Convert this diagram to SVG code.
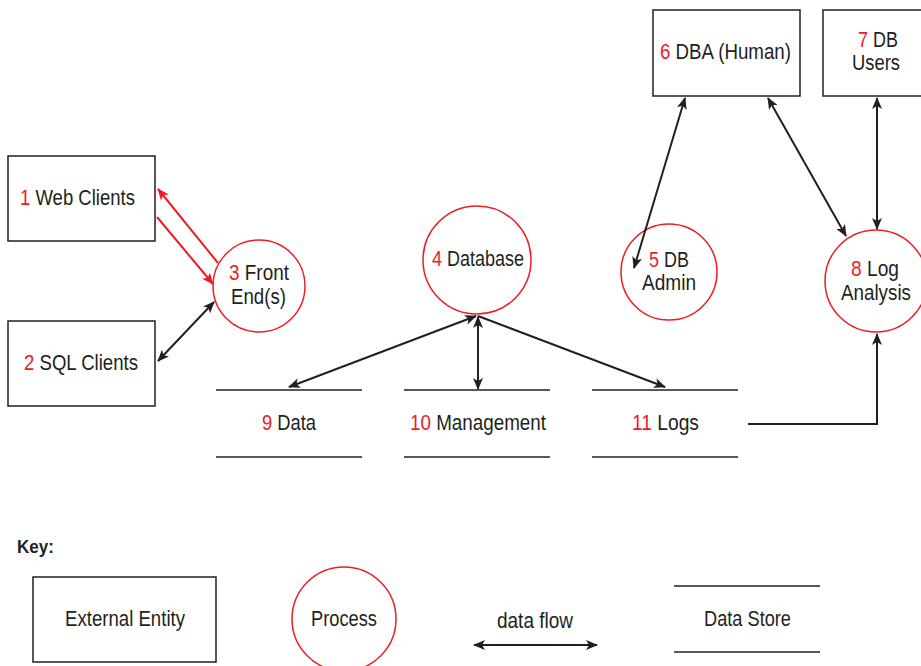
<svg xmlns="http://www.w3.org/2000/svg" width="921" height="666" viewBox="0 0 921 666">
<defs>
<style>
.box{fill:none;stroke:#231f20;stroke-width:1.5}
.proc{fill:none;stroke:#ed1c24;stroke-width:1.5}
.store{stroke:#231f20;stroke-width:1.5}
.t{font-family:"Liberation Sans",Arial,sans-serif;font-size:22px;fill:#231f20}
.n{fill:#ed1c24}
.fl{fill:none;stroke:#231f20;stroke-width:2}
.fr{fill:none;stroke:#ed1c24;stroke-width:2}
</style>
<marker id="ab" viewBox="0 0 12 10" refX="11" refY="5" markerWidth="12" markerHeight="10" markerUnits="userSpaceOnUse" orient="auto-start-reverse">
<path d="M0,0 L12,5 L0,10 L3,5 z" fill="#231f20"/>
</marker>
<marker id="ar" viewBox="0 0 12 10" refX="11" refY="5" markerWidth="12" markerHeight="10" markerUnits="userSpaceOnUse" orient="auto-start-reverse">
<path d="M0,0 L12,5 L0,10 L3,5 z" fill="#ed1c24"/>
</marker>
</defs>
<rect width="921" height="666" fill="#fff"/>

<g id="n1"><rect class="box" x="8" y="156" width="147" height="85"/>
<text class="t" x="20" y="205" textLength="115" lengthAdjust="spacingAndGlyphs"><tspan class="n">1</tspan> Web Clients</text></g>
<g id="n2"><rect class="box" x="8" y="321" width="147" height="85"/>
<text class="t" x="24" y="370" textLength="114" lengthAdjust="spacingAndGlyphs"><tspan class="n">2</tspan> SQL Clients</text></g>
<g id="n3"><circle class="proc" cx="259" cy="286" r="46"/>
<text class="t" x="229" y="280" textLength="60" lengthAdjust="spacingAndGlyphs"><tspan class="n">3</tspan> Front</text>
<text class="t" x="231" y="304" textLength="55" lengthAdjust="spacingAndGlyphs">End(s)</text></g>
<g id="n4"><circle class="proc" cx="477" cy="260" r="54"/>
<text class="t" x="432" y="266" textLength="92" lengthAdjust="spacingAndGlyphs"><tspan class="n">4</tspan> Database</text></g>
<g id="n5"><circle class="proc" cx="669" cy="272" r="48"/>
<text class="t" x="649" y="267" textLength="40" lengthAdjust="spacingAndGlyphs"><tspan class="n">5</tspan> DB</text>
<text class="t" x="642" y="290" textLength="54" lengthAdjust="spacingAndGlyphs">Admin</text></g>
<g id="n6"><rect class="box" x="653" y="10" width="147" height="86"/>
<text class="t" x="660" y="59" textLength="131" lengthAdjust="spacingAndGlyphs"><tspan class="n">6</tspan> DBA (Human)</text></g>
<g id="n7"><rect class="box" x="823" y="10" width="110" height="86"/>
<text class="t" x="858" y="47" textLength="40" lengthAdjust="spacingAndGlyphs"><tspan class="n">7</tspan> DB</text>
<text class="t" x="852" y="70" textLength="48" lengthAdjust="spacingAndGlyphs">Users</text></g>
<g id="n8"><circle class="proc" cx="876" cy="281" r="51"/>
<text class="t" x="851" y="276" textLength="48" lengthAdjust="spacingAndGlyphs"><tspan class="n">8</tspan> Log</text>
<text class="t" x="841" y="300" textLength="70" lengthAdjust="spacingAndGlyphs">Analysis</text></g>
<g id="n9"><line class="store" x1="216" y1="390" x2="362" y2="390"/><line class="store" x1="216" y1="457" x2="362" y2="457"/>
<text class="t" x="262" y="430" textLength="54" lengthAdjust="spacingAndGlyphs"><tspan class="n">9</tspan> Data</text></g>
<g id="n10"><line class="store" x1="404" y1="390" x2="550" y2="390"/><line class="store" x1="404" y1="457" x2="550" y2="457"/>
<text class="t" x="410" y="430" textLength="136" lengthAdjust="spacingAndGlyphs"><tspan class="n">10</tspan> Management</text></g>
<g id="n11"><line class="store" x1="592" y1="390" x2="738" y2="390"/><line class="store" x1="592" y1="457" x2="738" y2="457"/>
<text class="t" x="632" y="430" textLength="67" lengthAdjust="spacingAndGlyphs"><tspan class="n">11</tspan> Logs</text></g>

<g id="connectors">
<line class="fr" x1="218" y1="263" x2="158" y2="189" marker-end="url(#ar)"/>
<line class="fr" x1="157" y1="217" x2="213" y2="284" marker-end="url(#ar)"/>
<line class="fl" x1="158" y1="361" x2="214" y2="302" marker-start="url(#ab)" marker-end="url(#ab)"/>
<line class="fl" x1="476" y1="316" x2="289" y2="387" marker-start="url(#ab)" marker-end="url(#ab)"/>
<line class="fl" x1="478" y1="317" x2="478" y2="389" marker-start="url(#ab)" marker-end="url(#ab)"/>
<line class="fl" x1="478" y1="316" x2="665" y2="387" marker-end="url(#ab)"/>
<line class="fl" x1="685" y1="98" x2="634" y2="268" marker-start="url(#ab)" marker-end="url(#ab)"/>
<line class="fl" x1="768" y1="98" x2="846" y2="236" marker-start="url(#ab)" marker-end="url(#ab)"/>
<line class="fl" x1="877" y1="98" x2="877" y2="229" marker-start="url(#ab)" marker-end="url(#ab)"/>
<polyline class="fl" points="748,424 877,424 877,334" marker-end="url(#ab)"/>
</g>

<g id="key">
<text class="t" x="17" y="553" textLength="37" lengthAdjust="spacingAndGlyphs" style="font-size:19px;font-weight:bold">Key:</text>
<rect class="box" x="33" y="577" width="183" height="85"/>
<text class="t" x="65" y="626" textLength="120" lengthAdjust="spacingAndGlyphs">External Entity</text>
<circle class="proc" cx="344" cy="619" r="52"/>
<text class="t" x="311" y="626" textLength="66" lengthAdjust="spacingAndGlyphs">Process</text>
<text class="t" x="497" y="628" textLength="76" lengthAdjust="spacingAndGlyphs">data flow</text>
<line class="fl" x1="474" y1="645" x2="597" y2="645" marker-start="url(#ab)" marker-end="url(#ab)"/>
<line class="store" x1="674" y1="586" x2="820" y2="586"/><line class="store" x1="674" y1="652" x2="820" y2="652"/>
<text class="t" x="704" y="626" textLength="87" lengthAdjust="spacingAndGlyphs">Data Store</text>
</g>
</svg>
